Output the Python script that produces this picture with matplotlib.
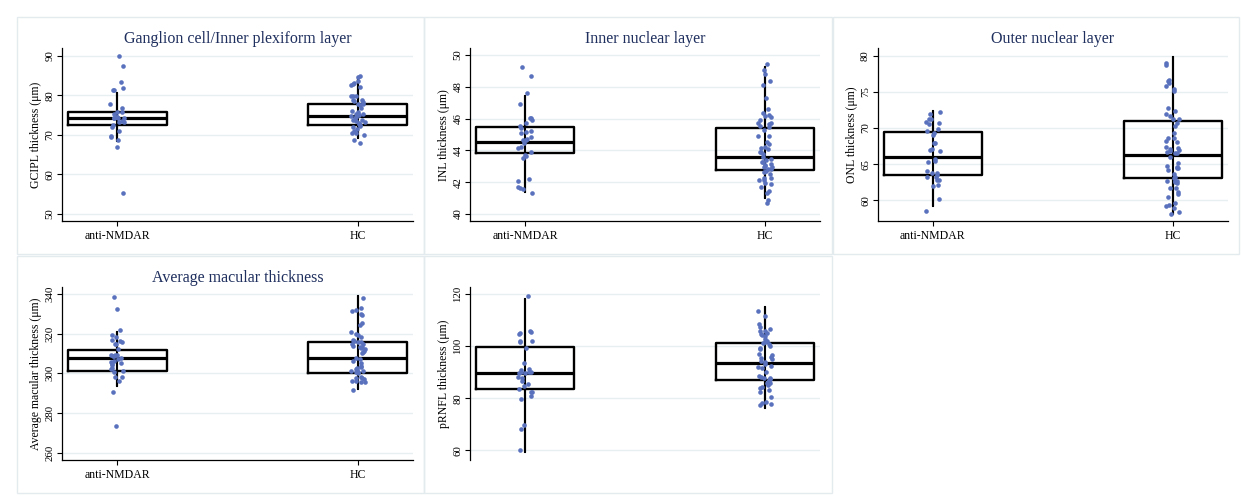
import numpy as np
import matplotlib
matplotlib.use("Agg")
import matplotlib.pyplot as plt
from matplotlib.patches import Rectangle

plt.rcParams['font.family'] = ['Liberation Serif', 'DejaVu Serif']

groups = ["anti-NMDAR", "HC"]

# ---------------- data ----------------
gcipl_anti = [90.0, 87.3, 83.3, 81.4, 81.4, 81.8, 77.7, 76.8, 75.7, 75.7, 75.2, 74.2, 74.2,
              74.4, 74.4, 74.3, 74.2, 73.5, 73.3, 73.2, 72.6, 72.0, 70.9, 69.8, 69.5, 68.7,
              66.9, 55.3]
gcipl_hc = [84.9, 84.6, 83.6, 83.0, 82.6, 82.8, 82.0, 79.9, 79.9, 79.9, 78.8, 78.7, 78.5, 78.2,
            77.7, 77.7, 77.5, 76.7, 76.1, 75.7, 75.3, 75.3, 75.3, 75.0, 74.8, 74.6, 74.2, 73.8,
            73.8, 73.5, 73.2, 72.9, 72.7, 72.5, 72.2, 71.9, 71.4, 71.0, 70.5, 70.4, 70.0, 68.6,
            68.0]
inl_anti = [49.22, 48.66, 47.6, 46.9, 46.04, 45.91, 46.06, 45.74, 45.56, 45.39, 45.22, 45.18,
            45.07, 44.86, 44.72, 44.65, 44.65, 44.44, 44.21, 44.13, 43.88, 43.71, 43.67, 43.5,
            42.2, 42.08, 41.6, 41.72, 41.61, 41.3]
inl_hc = [49.41, 49.06, 48.8, 48.36, 48.11, 47.27, 46.62, 46.37, 46.18, 46.23, 46.12, 45.91,
          45.7, 45.7, 45.68, 45.49, 45.53, 45.28, 44.93, 44.93, 44.55, 44.4, 44.23, 44.09, 44.13,
          43.92, 43.75, 43.9, 43.6, 43.46, 43.4, 43.3, 43.3, 43.12, 42.98, 42.98, 43.04, 43.08,
          42.83, 42.83, 42.7, 42.66, 42.54, 42.28, 42.24, 42.14, 42.14, 41.97, 41.89, 41.72,
          41.47, 41.3, 40.88, 40.71]
onl_anti = [72.17, 71.98, 71.24, 71.24, 70.78, 70.51, 70.74, 69.86, 69.59, 69.26, 69.03, 67.88,
            67.88, 66.96, 66.87, 67.1, 65.67, 65.44, 65.35, 64.06, 63.73, 63.73, 63.5, 63.27,
            63.18, 62.81, 62.81, 62.12, 61.98, 60.18, 58.53]
onl_hc = [78.94, 78.71, 76.59, 76.18, 76.5, 75.39, 75.85, 75.16, 72.81, 72.35, 71.98, 71.66,
          71.2, 71.24, 70.74, 70.33, 69.35, 68.57, 68.57, 68.2, 68.11, 66.96, 67.19, 67.33,
          67.05, 66.82, 66.64, 66.54, 66.59, 66.04, 65.12, 64.52, 64.79, 64.65, 64.42, 64.19,
          63.6, 63.27, 63.13, 62.72, 62.67, 62.58, 62.67, 62.35, 61.66, 61.75, 61.2, 60.88,
          60.51, 59.26, 59.59, 59.36, 58.9, 58.43, 58.11]
amt_anti = [338.5, 332.3, 322.0, 319.2, 318.2, 316.8, 316.3, 315.6, 314.6, 314.6, 312.3, 308.6,
            308.6, 309.2, 309.2, 309.2, 307.7, 307.1, 306.2, 305.5, 305.0, 304.5, 304.2, 302.5,
            302.2, 301.3, 300.8, 298.3, 298.3, 296.1, 290.4, 273.4]
amt_hc = [337.8, 332.1, 332.8, 331.4, 329.9, 329.4, 325.2, 324.2, 320.0, 320.7, 319.3, 318.5,
          316.6, 316.3, 315.9, 315.6, 315.0, 315.0, 313.9, 313.4, 313.4, 312.9, 312.1, 311.4,
          310.6, 310.4, 307.9, 307.2, 306.4, 305.0, 303.9, 303.4, 302.9, 302.2, 301.7, 301.3,
          301.2, 300.8, 300.5, 300.0, 298.3, 297.8, 297.8, 297.0, 296.3, 296.1, 295.6, 295.5,
          291.6]
rnfl_anti = [119.4, 105.8, 105.3, 105.2, 104.6, 102.0, 101.7, 102.0, 99.3, 93.4, 90.2, 89.9,
             90.2, 90.8, 91.1, 89.6, 89.6, 88.0, 87.9, 86.6, 85.6, 84.7, 83.4, 82.5, 82.3, 81.0,
             79.7, 69.7, 68.3, 60.0]
rnfl_hc = [113.5, 111.7, 108.5, 107.5, 106.6, 105.8, 105.8, 104.9, 104.5, 104.0, 104.3, 102.7,
           102.0, 101.5, 101.2, 100.7, 100.2, 99.4, 98.9, 97.1, 96.6, 96.0, 95.3, 94.9, 94.3,
           94.0, 93.0, 92.4, 91.9, 91.7, 90.2, 88.7, 88.3, 87.6, 87.9, 87.0, 87.4, 86.6, 86.4,
           86.0, 86.0, 85.1, 84.4, 83.8, 83.2, 82.5, 80.6, 78.7, 78.3, 77.8, 77.4]

# box statistics: [anti-NMDAR, HC]
gcipl_q1, gcipl_med, gcipl_q3 = [72.45, 72.5], [74.2, 74.8], [75.75, 77.8]
gcipl_wlo, gcipl_whi = [68.4, 69.1], [80.5, 84.6]
inl_q1, inl_med, inl_q3 = [43.82, 42.77], [44.53, 43.56], [45.47, 45.41]
inl_wlo, inl_whi = [41.4, 41.03], [47.42, 49.27]
onl_q1, onl_med, onl_q3 = [63.5, 63.09], [65.94, 66.31], [69.4, 70.97]
onl_wlo, onl_whi = [59.26, 58.06], [72.35, 79.77]
amt_q1, amt_med, amt_q3 = [301.2, 300.3], [307.6, 307.6], [311.8, 315.6]
amt_wlo, amt_whi = [293.6, 291.9], [320.7, 338.8]
rnfl_q1, rnfl_med, rnfl_q3 = [83.7, 87.0], [89.7, 93.5], [99.8, 101.3]
rnfl_wlo, rnfl_whi = [59.2, 76.1], [118.0, 114.9]

titles = ["Ganglion cell/Inner plexiform layer", "Inner nuclear layer", "Outer nuclear layer",
          "Average macular thickness", ""]
ylabels = ["GCIPL thickness (μm)", "INL thickness (μm)", "ONL thickness (μm)",
           "Average macular thickness (μm)", "pRNFL thickness (μm)"]
yticks_list = [[50, 60, 70, 80, 90], [40, 42, 44, 46, 48, 50], [60, 65, 70, 75, 80],
               [260, 280, 300, 320, 340], [60, 80, 100, 120]]

panels = [
    (gcipl_anti, gcipl_hc, gcipl_q1, gcipl_med, gcipl_q3, gcipl_wlo, gcipl_whi),
    (inl_anti, inl_hc, inl_q1, inl_med, inl_q3, inl_wlo, inl_whi),
    (onl_anti, onl_hc, onl_q1, onl_med, onl_q3, onl_wlo, onl_whi),
    (amt_anti, amt_hc, amt_q1, amt_med, amt_q3, amt_wlo, amt_whi),
    (rnfl_anti, rnfl_hc, rnfl_q1, rnfl_med, rnfl_q3, rnfl_wlo, rnfl_whi),
]

# ---------------- layout ----------------
W, H = 1247, 500
fig = plt.figure(figsize=(W / 100, H / 100), dpi=100)
fig.patch.set_facecolor("white")

panel_boxes = [(17, 17, 407, 237), (424, 17, 408, 237), (833, 17, 406, 237),
               (17, 256, 407, 237), (424, 256, 408, 237)]
axes_boxes = [(62, 48.3, 351, 172.7), (470, 48.3, 350, 172.7), (877.7, 48.3, 350.3, 172.7),
              (62, 287.3, 351, 172.7), (470, 287.3, 350, 172.7)]
ylims = [(48.23, 91.85), (39.56, 50.42), (57.14, 81.0), (256.3, 343.4), (56.3, 122.6)]

border_col = "#e4ebee"
grid_col = "#e8eff1"
title_col = "#1f2f5e"
pt_col = "#5a72be"

for (px, py, pw, ph) in panel_boxes:
    fig.add_artist(Rectangle((px / W, 1 - (py + ph) / H), pw / W, ph / H,
                             transform=fig.transFigure, fill=False,
                             edgecolor=border_col, linewidth=1.0))

rng = np.random.default_rng(7)
positions = np.arange(len(groups))

for i, (anti, hc, q1, med, q3, wlo, whi) in enumerate(panels):
    ax_x, ax_y, ax_w, ax_h = axes_boxes[i]
    ax = fig.add_axes([ax_x / W, 1 - (ax_y + ax_h) / H, ax_w / W, ax_h / H])
    ax.set_facecolor("none")
    ax.set_xlim(-0.23, 1.23)
    ax.set_ylim(*ylims[i])
    ax.set_yticks(yticks_list[i])
    ax.yaxis.grid(True, color=grid_col, linewidth=1.0)
    ax.set_axisbelow(True)

    stats = []
    for g in range(2):
        stats.append(dict(q1=q1[g], med=med[g], q3=q3[g], whislo=wlo[g], whishi=whi[g],
                          fliers=[]))
    ax.bxp(stats, positions=positions, widths=0.41, showcaps=False, showfliers=False,
           boxprops=dict(color="black", linewidth=1.7),
           medianprops=dict(color="black", linewidth=2.3),
           whiskerprops=dict(color="black", linewidth=1.5), manage_ticks=False, zorder=2)
    ax.vlines(positions, wlo, whi, color="black", linewidth=1.5, zorder=2)

    for g, vals in enumerate([anti, hc]):
        vals = np.asarray(vals)
        xj = positions[g] + rng.uniform(-0.03, 0.03, len(vals))
        ax.scatter(xj, vals, s=11, color=pt_col, linewidths=0, zorder=3)

    for s in ["top", "right"]:
        ax.spines[s].set_visible(False)
    ax.spines["left"].set_linewidth(0.9)
    ax.spines["bottom"].set_linewidth(0.9)

    ax.tick_params(axis="y", labelsize=7.8, length=3.5, width=0.8, pad=2, labelrotation=90)
    for lab in ax.get_yticklabels():
        lab.set_verticalalignment("center")
    ax.set_ylabel(ylabels[i], fontsize=8.5, labelpad=2.5)

    if i == 4:
        ax.spines["bottom"].set_visible(False)
        ax.set_xticks([])
    else:
        ax.set_xticks(positions)
        ax.set_xticklabels(groups, fontsize=8.5)
        ax.tick_params(axis="x", length=3.5, width=0.8, pad=3)
        ax.set_title(titles[i], fontsize=11.5, color=title_col, pad=3.5)

fig.savefig("out.png", dpi=100, facecolor="white")
